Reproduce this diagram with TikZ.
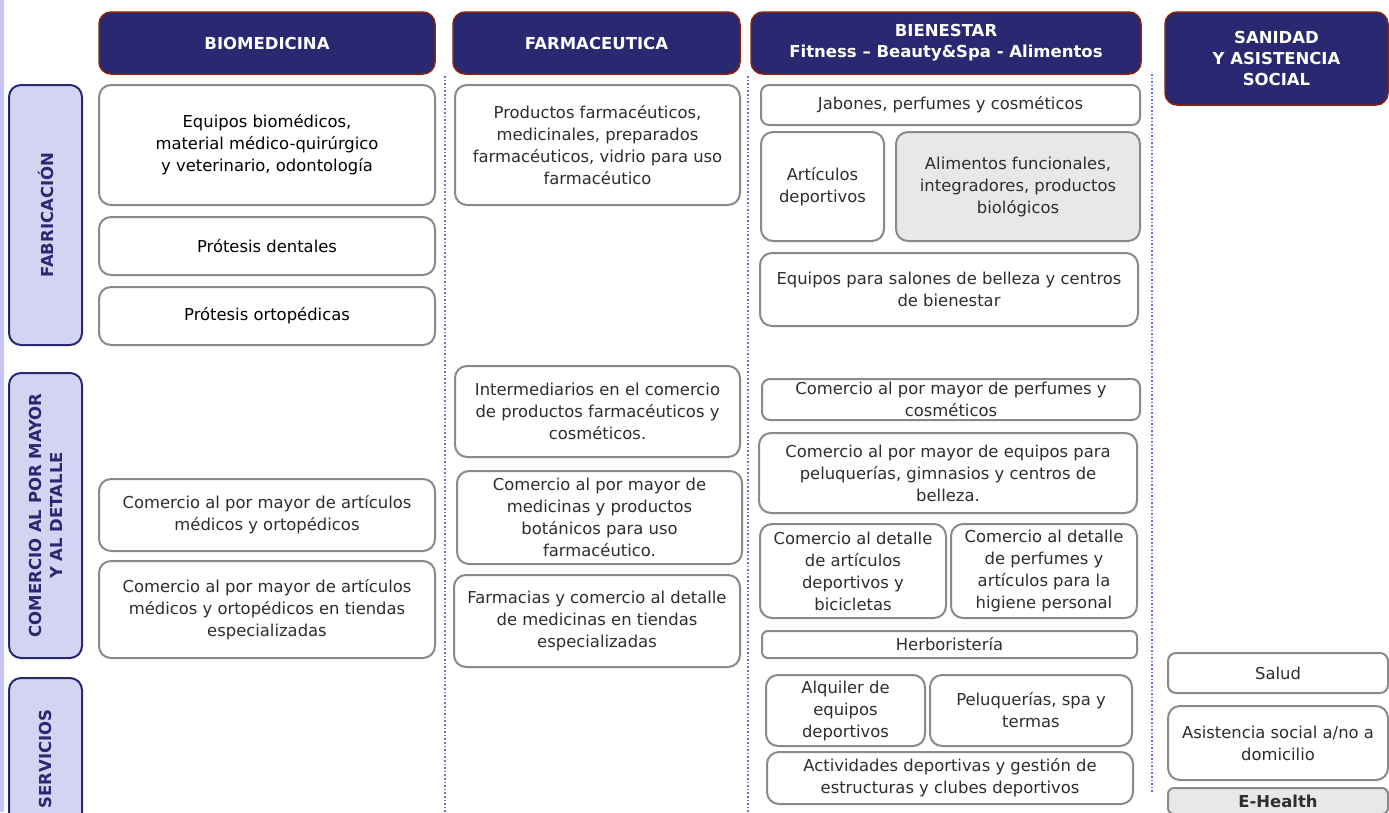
\documentclass[tikz,border=0pt]{standalone}
\usepackage{fontspec}
\setmainfont{DejaVu Sans}
\usetikzlibrary{positioning}

\definecolor{navy}{HTML}{2A2870}
\definecolor{rust}{HTML}{8A2208}
\definecolor{lilac}{HTML}{D4D4F2}
\definecolor{strip}{HTML}{C6C6F4}
\definecolor{dotblue}{HTML}{6C6CE0}
\definecolor{cellgray}{HTML}{8A8A8A}
\definecolor{inkgray}{HTML}{2E2E2E}

\begin{document}
\begin{tikzpicture}[x=1pt, y=-1pt,
  header/.style={rectangle, rounded corners=12pt, fill=navy, draw=rust, line width=1.5pt,
    text=white, align=center, font=\fontsize{16.5}{21}\selectfont\bfseries, inner sep=0pt},
  rowlabel/.style={rectangle, rounded corners=12pt, fill=lilac, draw=navy, line width=2pt,
    text=navy, align=center, rotate=90, font=\fontsize{16.5}{21}\selectfont\bfseries, inner sep=0pt},
  cell/.style={rectangle, rounded corners=12pt, draw=cellgray, line width=2pt, fill=white,
    text=inkgray, align=center, font=\fontsize{16.4}{22}\selectfont, inner xsep=4pt, inner ysep=0pt},
  shaded/.style={cell, fill=black!9},
  sepline/.style={dotblue, dotted, line width=1.6pt},
]
\useasboundingbox (0,0) rectangle (1389,812);
\clip (0,0) rectangle (1389,812);
\fill[strip] (0,0) rectangle (4,812);

% headers
\node[header, minimum width=336, minimum height=62] (biomed) at (267,43) {BIOMEDICINA};
\node[header, minimum width=287, minimum height=62] (farma) at (596.5,43) {FARMACEUTICA};
\node[header, minimum width=390, minimum height=62] (bienestar) at (946,43) {BIENESTAR\\Fitness -- Beauty\&Spa - Alimentos};
\node[header, minimum width=223, minimum height=93] (sanidad) at (1276.5,58.5) {SANIDAD\\Y ASISTENCIA\\SOCIAL};

% row labels
\node[rowlabel, minimum width=260, minimum height=73] (fabricacion) at (45.5,215) {FABRICACIÓN};
\node[rowlabel, minimum width=285, minimum height=73] (comercio) at (45.5,515.5) {COMERCIO AL POR MAYOR\\Y AL DETALLE};
\node[rowlabel, minimum width=162, minimum height=73] (servicios) at (45.5,759) {SERVICIOS};

% separators
\coordinate (sepa_top) at (445,76);
\coordinate (sepa_bot) at (445,812);
\coordinate (sepb_top) at (748,76);
\coordinate (sepb_bot) at (748,812);
\coordinate (sepc_top) at (1152,74);
\coordinate (sepc_bot) at (1152,792);
\draw[sepline] (sepa_top) -- (sepa_bot);
\draw[sepline] (sepb_top) -- (sepb_bot);
\draw[sepline] (sepc_top) -- (sepc_bot);

% biomedicina
\node[cell, text=black, minimum width=336, minimum height=120] (equipos) at (267,145) {Equipos biomédicos,\\material médico-quirúrgico\\y veterinario, odontología};
\node[cell, text=black, minimum width=336, minimum height=58] (dentales) at (267,246) {Prótesis dentales};
\node[cell, text=black, minimum width=336, minimum height=58] (ortopedicas) at (267,316) {Prótesis ortopédicas};
\node[cell, minimum width=336, minimum height=72] (mayor_medicos) at (267,515) {Comercio al por mayor de artículos\\médicos y ortopédicos};
\node[cell, minimum width=336, minimum height=97] (mayor_tiendas) at (267,609.5) {Comercio al por mayor de artículos\\médicos y ortopédicos en tiendas\\especializadas};

% farmaceutica
\node[cell, minimum width=285, minimum height=120] (productos) at (597.5,145) {Productos farmacéuticos,\\medicinales, preparados\\farmacéuticos, vidrio para uso\\farmacéutico};
\node[cell, minimum width=285, minimum height=91] (intermediarios) at (597.5,411.5) {Intermediarios en el comercio\\de productos farmacéuticos y\\cosméticos.};
\node[cell, minimum width=285, minimum height=93] (mayor_medicinas) at (599.5,517.5) {Comercio al por mayor de\\medicinas y productos\\botánicos para uso\\farmacéutico.};
\node[cell, minimum width=286, minimum height=92] (farmacias) at (597,621) {Farmacias y comercio al detalle\\de medicinas en tiendas\\especializadas};

% bienestar
\node[cell, rounded corners=8pt, minimum width=379, minimum height=40] (jabones) at (950.5,105) {Jabones, perfumes y cosméticos};
\node[cell, minimum width=123, minimum height=109] (articulos) at (822.5,186.5) {Artículos\\deportivos};
\node[shaded, minimum width=244, minimum height=109] (alimentos) at (1018,186.5) {Alimentos funcionales,\\integradores, productos\\biológicos};
\node[cell, minimum width=378, minimum height=73] (salones) at (949,289.5) {Equipos para salones de belleza y centros\\de bienestar};
\node[cell, rounded corners=8pt, minimum width=378, minimum height=41] (mayor_perfumes) at (951,399.5) {Comercio al por mayor de perfumes y\\cosméticos};
\node[cell, minimum width=378, minimum height=80] (mayor_equipos) at (948,473) {Comercio al por mayor de equipos para\\peluquerías, gimnasios y centros de\\belleza.};
\node[cell, minimum width=186, minimum height=94] (detalle_deportes) at (853,571) {Comercio al detalle\\de artículos\\deportivos y\\bicicletas};
\node[cell, minimum width=186, minimum height=94] (detalle_perfumes) at (1044,571) {Comercio al detalle\\de perfumes y\\artículos para la\\higiene personal};
\node[cell, rounded corners=6pt, minimum width=375, minimum height=27] (herboristeria) at (949.5,644.5) {Herboristería};
\node[cell, minimum width=159, minimum height=71] (alquiler) at (845.5,710.5) {Alquiler de\\equipos\\deportivos};
\node[cell, minimum width=202, minimum height=71] (peluquerias) at (1031,710.5) {Peluquerías, spa y\\termas};
\node[cell, minimum width=366, minimum height=52] (actividades) at (950,778) {Actividades deportivas y gestión de\\estructuras y clubes deportivos};

% sanidad
\node[cell, rounded corners=8pt, minimum width=220, minimum height=40] (salud) at (1278,673) {Salud};
\node[cell, minimum width=220, minimum height=74] (asistencia) at (1278,743) {Asistencia social a/no a\\domicilio};
\node[shaded, rounded corners=6pt, font=\fontsize{16.4}{22}\selectfont\bfseries, minimum width=220, minimum height=26] (ehealth) at (1278,801) {E-Health};
\end{tikzpicture}
\end{document}
